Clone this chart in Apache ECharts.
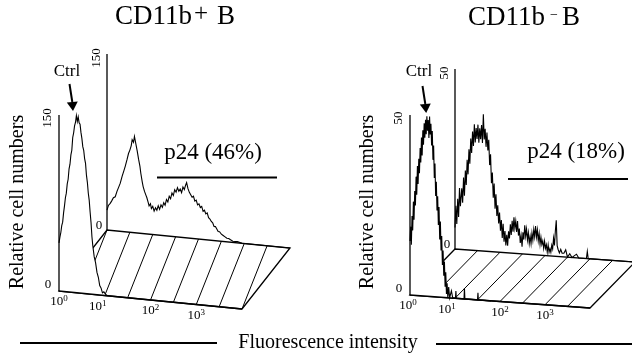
<!DOCTYPE html>
<html>
<head>
<meta charset="utf-8">
<script src="https://cdn.jsdelivr.net/npm/echarts@6/dist/echarts.min.js"></script>
<style>
html, body { margin: 0; padding: 0; background: #fff; }
#chart { width: 632px; height: 358px; }
</style>
</head>
<body>
<div id="chart"></div>
<script>
// log decades on the fluorescence axis (labels 10^0 .. 10^3)
var decadeExp = ['0', '1', '2', '3'];
var leftCountTicks = ['0', '150'];
var rightCountTicks = ['0', '50'];

// [decade, cell count]
var leftCtrl = [[0,41],[0.02,46],[0.04,50],[0.06,56],[0.08,59],[0.10,67],[0.12,73],[0.14,80],[0.16,84],
    [0.18,92],[0.20,96],[0.22,105],[0.24,109],[0.26,117],[0.28,121],[0.30,132],[0.32,136],[0.34,142],
    [0.36,145],[0.38,151],[0.40,146],[0.42,150],[0.44,145],[0.46,144],[0.48,137],[0.50,132],[0.52,125],
    [0.54,122],[0.56,115],[0.58,111],[0.60,101],[0.62,95],[0.64,86],[0.66,80],[0.68,70],[0.70,61],
    [0.72,49],[0.74,41],[0.77,32],[0.80,27],[0.83,19],[0.86,15],[0.89,8],[0.92,6],[0.95,2],[0.98,3],
    [1.02,1],[1.06,0]];
var leftP24 = [[0,17],[0.03,21],[0.07,23],[0.10,25],[0.14,28],[0.18,29],[0.22,34],[0.26,38],[0.29,41],
    [0.33,47],[0.37,52],[0.40,56],[0.44,62],[0.47,67],[0.50,70],[0.53,74],[0.55,79],[0.58,77],[0.60,82],
    [0.62,78],[0.64,74],[0.66,70],[0.69,63],[0.72,57],[0.74,51],[0.77,44],[0.79,40],[0.82,36],[0.85,33],
    [0.87,31],[0.90,27],[0.92,24],[0.95,26],[0.97,22],[1.00,24],[1.03,20],[1.06,23],[1.09,21],[1.12,25],
    [1.15,22],[1.18,26],[1.21,24],[1.24,28],[1.27,26],[1.30,31],[1.33,29],[1.36,34],[1.39,32],[1.42,37],
    [1.45,35],[1.48,40],[1.51,38],[1.54,42],[1.57,39],[1.60,41],[1.63,38],[1.66,43],[1.69,41],[1.72,45],
    [1.74,47],[1.77,42],[1.80,39],[1.83,37],[1.86,35],[1.89,36],[1.92,32],[1.95,33],[1.98,29],[2.01,30],
    [2.04,27],[2.07,28],[2.10,24],[2.13,25],[2.16,22],[2.19,23],[2.22,19],[2.25,18],[2.28,16],[2.31,15],
    [2.34,12],[2.37,12],[2.40,10],[2.43,8],[2.46,8],[2.50,6],[2.54,5],[2.58,4],[2.62,3],[2.66,3],
    [2.70,2],[2.75,1],[2.85,1],[2.95,0],[4,0]];
var rightCtrl = [[0,15],[0.015,19],[0.03,14],[0.045,22],[0.06,18],[0.075,26],[0.09,21],[0.105,29],
    [0.12,25],[0.135,33],[0.15,28],[0.165,36],[0.18,31],[0.195,38],[0.21,34],[0.225,41],[0.24,37],
    [0.255,44],[0.27,39],[0.285,46],[0.30,42],[0.315,48],[0.33,44],[0.345,49],[0.36,45],[0.375,50],
    [0.39,46],[0.405,49],[0.42,44],[0.435,50],[0.45,45],[0.465,48],[0.48,42],[0.495,46],[0.51,38],
    [0.525,42],[0.54,33],[0.555,37],[0.57,28],[0.585,32],[0.60,24],[0.615,28],[0.63,20],[0.645,25],
    [0.66,16],[0.675,21],[0.69,13],[0.705,17],[0.72,9],[0.735,13],[0.75,6],[0.765,10],[0.78,3],
    [0.795,7],[0.81,1],[0.825,4],[0.84,0],[0.86,3],[0.88,0],[0.92,2],[0.95,0],[1.01,0],[1.02,2],
    [1.03,0],[1.2,0],[1.21,3],[1.22,0],[1.5,0],[1.51,2],[1.52,0],[1.8,0]];
var rightP24 = [[0,6],[0.02,12],[0.04,7],[0.06,14],[0.08,9],[0.10,17],[0.12,12],[0.15,17],[0.17,13],
    [0.19,20],[0.21,15],[0.23,22],[0.25,18],[0.27,25],[0.29,21],[0.31,28],[0.33,24],[0.35,31],[0.37,27],
    [0.39,33],[0.41,29],[0.43,35],[0.45,30],[0.47,34],[0.49,31],[0.51,35],[0.53,30],[0.55,34],[0.57,31],
    [0.59,35],[0.61,30],[0.63,38],[0.65,31],[0.67,34],[0.69,29],[0.71,33],[0.73,28],[0.75,31],[0.77,24],
    [0.79,27],[0.81,19],[0.83,22],[0.85,15],[0.87,19],[0.89,12],[0.91,16],[0.93,10],[0.95,13],[0.97,8],
    [0.99,11],[1.01,6],[1.03,9],[1.05,4],[1.07,8],[1.09,3],[1.11,6],[1.13,2],[1.15,5],[1.17,2],[1.19,6],
    [1.21,4],[1.23,8],[1.25,5],[1.27,9],[1.29,6],[1.31,10],[1.33,7],[1.35,9],[1.37,6],[1.39,9],[1.41,5],
    [1.43,7],[1.45,3],[1.47,5],[1.49,2],[1.51,6],[1.53,4],[1.55,8],[1.57,5],[1.59,7],[1.61,4],[1.63,6],
    [1.65,3],[1.67,5],[1.69,3],[1.71,6],[1.73,4],[1.75,7],[1.77,5],[1.79,8],[1.81,5],[1.83,7],[1.85,4],
    [1.87,6],[1.89,3],[1.91,5],[1.93,3],[1.95,4],[1.97,2],[1.99,4],[2.01,2],[2.03,3],[2.05,1],[2.07,3],
    [2.09,1],[2.11,2],[2.13,1],[2.15,3],[2.17,2],[2.19,5],[2.21,3],[2.23,7],[2.25,10],[2.27,3],[2.29,2],
    [2.32,1],[2.35,2],[2.38,1],[2.42,1],[2.46,2],[2.50,0],[2.55,1],[2.60,0],[2.70,1],[2.75,0],[2.92,0],
    [2.94,2],[2.96,0],[4,0]];

var serif = '"Liberation Serif", "Times New Roman", serif';
var black = '#000';

function txt(text, x, y, size, extra) {
    var el = {
        type: 'text', x: x, y: y,
        style: {text: text, font: size + 'px ' + serif, fill: black, align: 'center', verticalAlign: 'middle'}
    };
    return echarts.util.extend(el, extra || {});
}

function ltxt(text, x, y, size) {
    return {
        type: 'text', x: x, y: y,
        style: {text: text, font: size + 'px ' + serif, fill: black, align: 'left', verticalAlign: 'middle'}
    };
}

/**
 * one pseudo-3D panel: ctrl histogram in front, p24 histogram behind, hatched floor between
 */
var panel = function (idx, ctrl, p24, countTicks, skewY, depth, hatchShift, hatchCount, tickDx) {
    return {
        type: 'custom',
        coordinateSystem: 'cartesian2d',
        xAxisIndex: idx,
        yAxisIndex: idx,
        silent: true,
        clip: false,
        data: [[0, 0]],
        renderItem: function (params, api) {
            var ymax = +countTicks[countTicks.length - 1];
            function pt(dec, cnt, d) {
                var p = api.coord([dec, cnt]);
                return [p[0] + d * depth[0], p[1] + dec / 4 * skewY + d * depth[1]];
            }
            function curve(h, d) {
                return h.map(function (v) { return pt(v[0], v[1], d); });
            }
            function area(h, d) {
                var pts = curve(h, d);
                pts.unshift(pt(h[0][0], 0, d));
                pts.push(pt(h[h.length - 1][0], 0, d));
                return pts;
            }
            function seg(a, b, w) {
                return {type: 'line', shape: {x1: a[0], y1: a[1], x2: b[0], y2: b[1]},
                    style: {stroke: black, lineWidth: w}};
            }
            var kids = [];
            for (var k = 1; k <= hatchCount; k++) {
                kids.push(seg(pt(k * 0.5, 0, 0), pt(k * 0.5 - hatchShift, 0, 1), 1));
            }
            kids.push({type: 'polygon', shape: {points: area(p24, 1)}, style: {fill: '#fff'}});
            kids.push({type: 'polygon', shape: {points: [pt(0, 0, 0), pt(4, 0, 0), pt(4, 0, 1), pt(0, 0, 1)]},
                style: {fill: null, stroke: black, lineWidth: 1.3}});
            kids.push({type: 'polyline', shape: {points: curve(p24, 1)}, style: {fill: null, stroke: black, lineWidth: 1.1}});
            kids.push(seg(pt(0, 0, 1), pt(0, ymax, 1), 1.3));
            kids.push({type: 'polygon', shape: {points: area(ctrl, 0)}, style: {fill: '#fff'}});
            kids.push(seg(pt(0, 0, 0), pt(4, 0, 0), 1.4));
            kids.push({type: 'polyline', shape: {points: curve(ctrl, 0)}, style: {fill: null, stroke: black, lineWidth: 1.1}});
            kids.push(seg(pt(0, 0, 0), pt(0, ymax, 0), 1.3));

            // count labels on both vertical axes
            var f0 = pt(0, 0, 0), fT = pt(0, ymax, 0), b0 = pt(0, 0, 1), bT = pt(0, ymax, 1);
            kids.push(txt(countTicks[1], fT[0] - 11, fT[1] + 3, 13, {rotation: Math.PI / 2}));
            kids.push(txt(countTicks[0], f0[0] - 11, f0[1] - 6, 13));
            kids.push(txt(countTicks[1], bT[0] - 10, bT[1] + 4, 13, {rotation: Math.PI / 2}));
            kids.push(txt(countTicks[0], b0[0] - 8, b0[1] - 4, 13));

            // decade labels along the front edge
            decadeExp.forEach(function (e, i) {
                var p = pt(i, 0, 0);
                kids.push({
                    type: 'text', x: p[0] + tickDx[i], y: p[1] + 11,
                    style: {
                        text: '10{s|' + e + '}', font: '13px ' + serif, fill: black,
                        align: 'center', verticalAlign: 'middle', lineHeight: 15,
                        rich: {s: {fontSize: 9, fontFamily: serif, verticalAlign: 'top', lineHeight: 9}}
                    }
                });
            });
            return {type: 'group', children: kids};
        }
    };
};

function arrow(x1, y1, x2, y2, tx, ty) {
    var dx = tx - x2, dy = ty - y2, len = Math.sqrt(dx * dx + dy * dy);
    var nx = -dy / len * 5.5, ny = dx / len * 5.5;
    return [
        {type: 'line', shape: {x1: x1, y1: y1, x2: x2, y2: y2}, style: {stroke: black, lineWidth: 2}},
        {type: 'polygon', shape: {points: [[x2 + nx, y2 + ny], [x2 - nx, y2 - ny], [tx, ty]]}, style: {fill: black}}
    ];
}

function hline(x1, x2, y, w) {
    return {type: 'line', shape: {x1: x1, y1: y, x2: x2, y2: y}, style: {stroke: black, lineWidth: w}};
}

var graphics = [
    ltxt('CD11b', 115, 17, 27),
    txt('+', 201, 14, 25),
    ltxt('B', 217, 17, 27),
    ltxt('CD11b', 468, 18, 27),
    txt('\u2212', 554, 15, 14),
    ltxt('B', 562, 18, 27),
    txt('Relative cell numbers', 18, 202, 20, {rotation: Math.PI / 2}),
    txt('Relative cell numbers', 368, 202, 20, {rotation: Math.PI / 2}),
    txt('Ctrl', 67, 72, 17),
    txt('Ctrl', 419, 72, 17),
    txt('p24 (46%)', 213, 153, 23),
    txt('p24 (18%)', 576, 152, 23),
    hline(157, 277, 177.5, 2),
    hline(508, 628, 179, 2),
    txt('Fluorescence intensity', 328, 343, 20),
    hline(20, 217, 343, 1.8),
    hline(436, 632, 344, 1.8)
].concat(arrow(69.5, 84, 72.3, 102, 73, 111), arrow(422.5, 86, 425.3, 104, 426.2, 113));

var chart = echarts.init(document.getElementById('chart'));
chart.setOption({
    animation: false,
    backgroundColor: '#fff',
    grid: [
        {left: 59, top: 115, width: 183, height: 176},
        {left: 410, top: 115, width: 180, height: 180}
    ],
    xAxis: [
        {gridIndex: 0, type: 'value', min: 0, max: 4, show: false},
        {gridIndex: 1, type: 'value', min: 0, max: 4, show: false}
    ],
    yAxis: [
        {gridIndex: 0, type: 'value', min: 0, max: +leftCountTicks[1], show: false},
        {gridIndex: 1, type: 'value', min: 0, max: +rightCountTicks[1], show: false}
    ],
    series: [
        panel(0, leftCtrl, leftP24, leftCountTicks, 18, [48, -61], 0.5, 8, [0, -7, 0, 0]),
        panel(1, rightCtrl, rightP24, rightCountTicks, 13, [45, -46], 0, 7, [-2, -8, 0, 0])
    ],
    graphic: graphics
});
</script>
</body>
</html>
